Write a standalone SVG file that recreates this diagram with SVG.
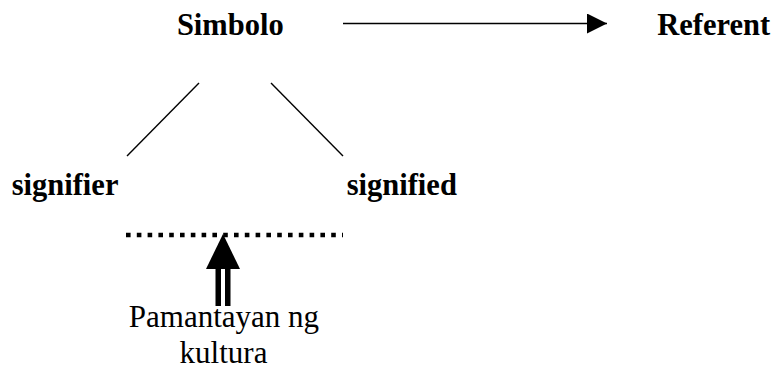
<svg xmlns="http://www.w3.org/2000/svg" width="778" height="371" viewBox="0 0 778 371">
<style>
.lbl{font-family:"Liberation Serif","Times New Roman",serif;font-weight:bold;font-size:30.5px;fill:#000}
.reg{font-family:"Liberation Serif","Times New Roman",serif;font-size:31px;fill:#000}
.ln{stroke:#000;stroke-width:1.4;fill:none}
</style>
<defs>
<marker id="ah" markerWidth="20" markerHeight="20" refX="20" refY="10" orient="auto" markerUnits="userSpaceOnUse">
<path d="M0,0 L20,10 L0,20 Z" fill="#000"/>
</marker>
</defs>
<rect width="778" height="371" fill="#fff"/>
<g id="connectors">
<line class="ln" x1="343" y1="23.5" x2="607" y2="23.5" marker-end="url(#ah)"/>
<line class="ln" x1="199" y1="83" x2="127" y2="156"/>
<line class="ln" x1="271" y1="83" x2="343" y2="156"/>
<line x1="126" y1="235" x2="343" y2="235" stroke="#000" stroke-width="4.5" stroke-dasharray="4.6 6.2"/>
<g id="double-arrow">
<path d="M223,234 L240,269 L206,269 Z" fill="#000"/>
<rect x="215.5" y="269" width="5.5" height="37" fill="#000"/>
<rect x="225" y="269" width="5.5" height="37" fill="#000"/>
</g>
</g>
<g id="simbolo"><text class="lbl" x="230.3" y="35" text-anchor="middle">Simbolo</text></g>
<g id="referent"><text class="lbl" x="713.7" y="35" text-anchor="middle">Referent</text></g>
<g id="signifier"><text class="lbl" x="11.7" y="194.5">signifier</text></g>
<g id="signified"><text class="lbl" x="346.7" y="194.5">signified</text></g>
<g id="pamantayan"><text class="reg" text-anchor="middle"><tspan x="224" y="327">Pamantayan ng</tspan><tspan x="223.5" y="363">kultura</tspan></text></g>
</svg>
